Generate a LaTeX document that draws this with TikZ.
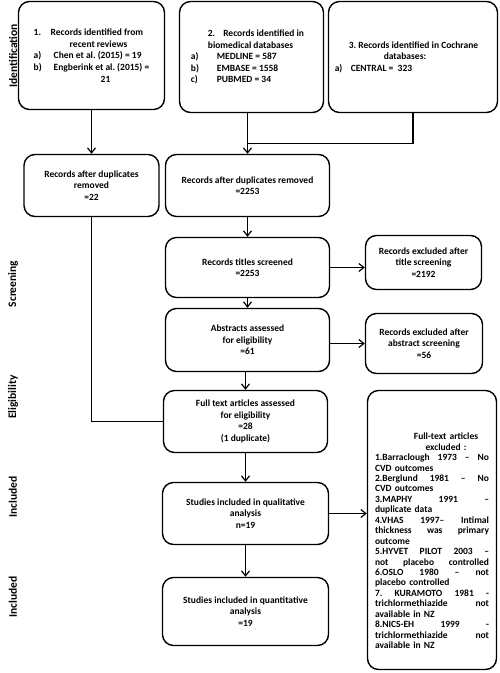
\documentclass[tikz,border=0pt]{standalone}
\usepackage{fontspec}
\setmainfont{Carlito}
\usetikzlibrary{arrows.meta}
\frenchspacing
\newcommand{\jline}[1]{\makebox[114pt][l]{#1}}
\begin{document}
\begin{tikzpicture}[x=1pt,y=-1pt,
  box/.style={draw, line width=1.4pt, rounded corners=11pt, align=center, inner sep=2pt,
    font=\bfseries\fontsize{9.5}{11.6}\selectfont},
  listtext/.style={align=left, text width=114pt, inner sep=0pt,
    font=\bfseries\fontsize{9.5}{10.45}\selectfont},
  conn/.style={line width=1.2pt},
  arr/.style={conn, -{Straight Barb[length=5pt,width=8pt]}},
  side/.style={rotate=90, inner sep=0pt, font=\bfseries\fontsize{11.5}{13}\selectfont}]
\useasboundingbox (0,0) rectangle (500,673);

% side labels
\node[side] (lid) at (13,56) {Identification};
\node[side] (lsc) at (13,284) {Screening};
\node[side] (lel) at (13,397) {Eligibility};
\node[side] (lin1) at (13,497) {Included};
\node[side] (lin2) at (13,597) {Included};

% identification boxes
\node[box, align=left, minimum width=146pt, minimum height=108pt] (b1) at (91.5,55.5) {%
\makebox[17pt][l]{1.}Records identified from\\
\hspace*{36pt}recent reviews\\
\makebox[20pt][l]{a)}Chen et al. (2015) = 19\\
\makebox[20pt][l]{b)}Engberink et al. (2015) =\\
\hspace*{67pt}21};

\node[box, align=left, minimum width=144pt, minimum height=111pt] (b2) at (251.5,57) {%
\hspace*{17pt}2.\hspace*{8pt}Records identified in\hspace*{8pt}\\
\hspace*{17pt}biomedical databases\\
\makebox[26pt][l]{a)}MEDLINE = 587\\
\makebox[26pt][l]{b)}EMBASE = 1558\\
\makebox[26pt][l]{c)}PUBMED = 34};

\node[box, align=left, minimum width=169pt, minimum height=111pt] (b3) at (413,57) {%
\hspace*{14pt}3. Records identified in Cochrane\hspace*{13pt}\\
\hspace*{49pt}databases:\\
\makebox[16pt][l]{a)}CENTRAL =\ \ 323};

% duplicates
\node[box, minimum width=135pt, minimum height=62pt] (dupL) at (91.5,185.5) {Records after duplicates\\ removed\\ =22};
\node[box, minimum width=164pt, minimum height=62pt] (dupM) at (247.5,185.5) {Records after duplicates removed\\ =2253};

% screening
\node[box, minimum width=164pt, minimum height=60pt] (titles) at (247.5,267.5) {Records titles screened\\ =2253};
\node[box, minimum width=116pt, minimum height=54pt] (exT) at (423.5,262.5) {Records excluded after\\ title screening\\ =2192};
\node[box, minimum width=164pt, minimum height=63pt] (abstr) at (247.5,340) {Abstracts assessed\\ for eligibility\\ =61};
\node[box, minimum width=117pt, minimum height=60pt] (exA) at (424,343.5) {Records excluded after\\ abstract screening\\ =56};

% eligibility / included
\node[box, minimum width=164pt, minimum height=62pt] (full) at (245.5,421.5) {Full text articles assessed\\ for eligibility\\ =28\\ (1 duplicate)};
\node[box, minimum width=166pt, minimum height=62pt] (qual) at (245.5,513.5) {Studies included in qualitative\\ analysis\\ n=19};
\node[box, minimum width=166pt, minimum height=68pt] (quant) at (245.5,611.5) {Studies included in quantitative\\ analysis\\ =19};

\node[box, minimum width=129pt, minimum height=279pt] (exF) at (432,530) {};
\node[listtext, anchor=north] (exFt) at ([yshift=-43pt]exF.north) {%
\makebox[114pt][c]{\hspace*{28pt}Full-text articles}\\
\makebox[114pt][c]{\hspace*{28pt}excluded :}\\
\jline{1.Barraclough\hfill 1973\hfill --\hfill No}\\
CVD outcomes\\
\jline{2.Berglund\hfill 1981\hfill --\hfill No}\\
CVD outcomes\\
\jline{3.MAPHY\hfill 1991\hfill --}\\
duplicate data\\
\jline{4.VHAS\hfill 1997--\hfill Intimal}\\
\jline{thickness\hfill was\hfill primary}\\
outcome\\
\jline{5.HYVET\hfill PILOT\hfill 2003\hfill --}\\
\jline{not\hfill placebo\hfill controlled}\\
\jline{6.OSLO\hfill 1980\hfill --\hfill not}\\
placebo controlled\\
\jline{7.\hfill KURAMOTO\hfill 1981\hfill -}\\
\jline{trichlormethiazide\hfill not}\\
available in NZ\\
\jline{8.NICS-EH\hfill 1999\hfill -}\\
\jline{trichlormethiazide\hfill not}\\
available in NZ};

% connectors
\path (dupM.north) ++(0,-10) coordinate (j);
\draw[arr] (b1.south) -- (dupL.north);
\draw[arr] (b2.south -| dupM.north) -- (dupM.north);
\draw[conn] (b3.south) |- (j);
\draw[arr] (dupM.south) -- (titles.north);
\draw[arr] (titles.south) -- (abstr.north);
\draw[arr] (abstr.south -| full.north) -- (full.north);
\draw[arr] (full.south) -- (qual.north);
\draw[arr] (qual.south) -- (quant.north);
\draw[arr] (titles.east) -- (titles.east -| exT.west);
\draw[arr] (exA.west -| abstr.east) -- (exA.west);
\draw[arr] (qual.east) -- (qual.east -| exF.west);
\draw[conn] (dupL.south) |- (full.west);
\end{tikzpicture}
\end{document}
